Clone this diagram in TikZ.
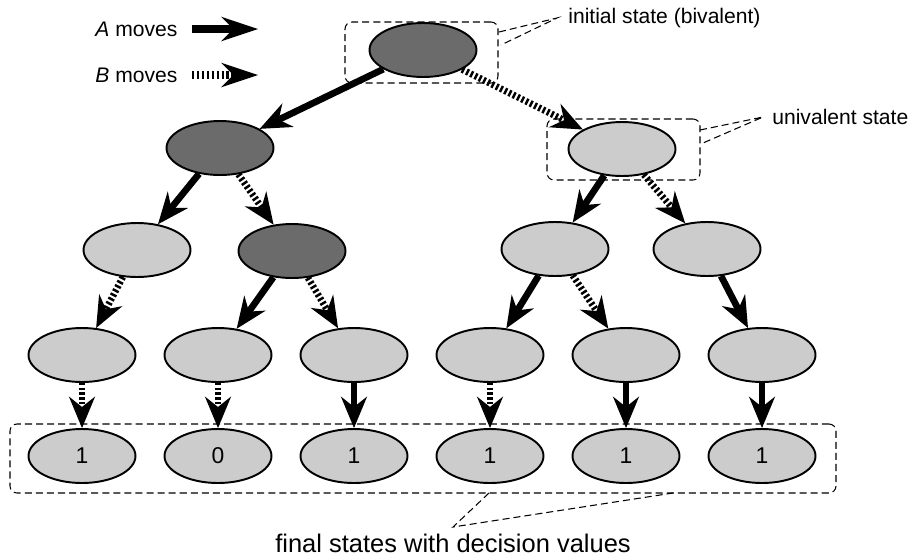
\documentclass[tikz,border=0pt]{standalone}
\usepackage{fontspec}
\setmainfont{Liberation Sans}
\usetikzlibrary{arrows.meta, shapes.geometric, fit}

\definecolor{bivgray}{gray}{0.42}
\definecolor{unigray}{gray}{0.80}

\begin{document}
\begin{tikzpicture}[x=0.02cm, y=-0.02cm,
    font=\fontsize{12}{14}\selectfont,
    statenode/.style={ellipse, draw, line width=1.1pt, minimum width=2.14cm, minimum height=1.08cm, inner sep=0pt, font=\fontsize{13}{15}\selectfont},
    biv/.style={statenode, fill=bivgray},
    uni/.style={statenode, fill=unigray},
    amove/.style={line width=3.8pt, -{Stealth[length=18pt, width=15pt, inset=6pt, line width=0pt]}},
    bmove/.style={amove, dash pattern=on 1.4pt off 1.3pt},
    legmove/.style={line width=4.6pt, -{Stealth[length=21pt, width=14pt, inset=7pt, line width=0pt]}},
    groupbox/.style={draw, line width=0.6pt, dash pattern=on 4pt off 2.3pt, rounded corners=4pt, inner sep=0pt},
    callout/.style={line width=0.6pt, dash pattern=on 4pt off 2.3pt}]
		\useasboundingbox (0,0) rectangle (908,555);

		% Legend
		\node[right, inner sep=0pt] (alabel) at (95,29) {\textit{A} moves};
		\node[right, inner sep=0pt] (blabel) at (95,75) {\textit{B} moves};
		\coordinate (astart) at (192,29);
		\coordinate (aend) at (258,29);
		\coordinate (bstart) at (192,75);
		\coordinate (bend) at (258,75);
		\draw[legmove] (astart) -- (aend);
		\draw[legmove, dash pattern=on 1.4pt off 1.4pt] (bstart) -- (bend);

		% States
		\node[biv] (r) at (423,50) {};

		\node[biv] (rA) at (220,148) {};
		\node[uni] (rB) at (622,149) {};

		\node[uni] (rAA) at (137,250) {};
		\node[biv] (rAB) at (292,251) {};
		\node[uni] (rBA) at (555,249) {};
		\node[uni] (rBB) at (707,249) {};

		\node[uni] (rAAB) at (82,355) {};
		\node[uni] (rABA) at (218,355) {};
		\node[uni] (rABB) at (354,355) {};
		\node[uni] (rBAA) at (490,355) {};
		\node[uni] (rBAB) at (626,355) {};
		\node[uni] (rBBA) at (762,355) {};

		\node[uni] (rAABB) at (82,456) {1};
		\node[uni] (rABAB) at (218,456) {0};
		\node[uni] (rABBA) at (354,456) {1};
		\node[uni] (rBAAB) at (490,456) {1};
		\node[uni] (rBABA) at (626,456) {1};
		\node[uni] (rBBAA) at (762,456) {1};

		% Moves
		\draw[amove] (r) -- (rA);
		\draw[bmove] (r) -- (rB);
		\draw[amove] (rA) -- (rAA);
		\draw[bmove] (rA) -- (rAB);
		\draw[amove] (rB) -- (rBA);
		\draw[bmove] (rB) -- (rBB);
		\draw[bmove] (rAA) -- (rAAB);
		\draw[amove] (rAB) -- (rABA);
		\draw[bmove] (rAB) -- (rABB);
		\draw[amove] (rBA) -- (rBAA);
		\draw[bmove] (rBA) -- (rBAB);
		\draw[amove] (rBB) -- (rBBA);
		\draw[bmove] (rAAB) -- (rAABB);
		\draw[bmove] (rABA) -- (rABAB);
		\draw[amove] (rABB) -- (rABBA);
		\draw[bmove] (rBAA) -- (rBAAB);
		\draw[amove] (rBAB) -- (rBABA);
		\draw[amove] (rBBA) -- (rBBAA);

		% Dashed boxes
		\node[groupbox, fit={(345,22) (498,83)}] (initbox) {};
		\node[groupbox, fit={(547,119) (700,180)}] (unibox) {};
		\node[groupbox, fit={(10,424) (836,493)}] (finalbox) {};

		% Callouts
		\node[right, inner sep=0pt] (initlabel) at (568,18) {initial state (bivalent)};
		\coordinate (inittip) at (557,18);
		\coordinate (initfoot1) at (499,32);
		\coordinate (initfoot2) at (501,45);
		\draw[callout] (initfoot1) -- (inittip) -- (initfoot2);

		\node[right, inner sep=0pt] (unilabel) at (772,117) {univalent state};
		\coordinate (unitip) at (763,117);
		\coordinate (unifoot1) at (700,130);
		\coordinate (unifoot2) at (703,143);
		\draw[callout] (unifoot1) -- (unitip) -- (unifoot2);

		\node[inner sep=0pt, font=\fontsize{14.5}{16}\selectfont] (finallabel) at (453,543) {final states with decision values};
		\coordinate (finaltip) at (453,527);
		\coordinate (finalfoot1) at (489,493);
		\coordinate (finalfoot2) at (673,493);
		\draw[callout] (finalfoot1) -- (finaltip) -- (finalfoot2);

	\end{tikzpicture}
\end{document}
